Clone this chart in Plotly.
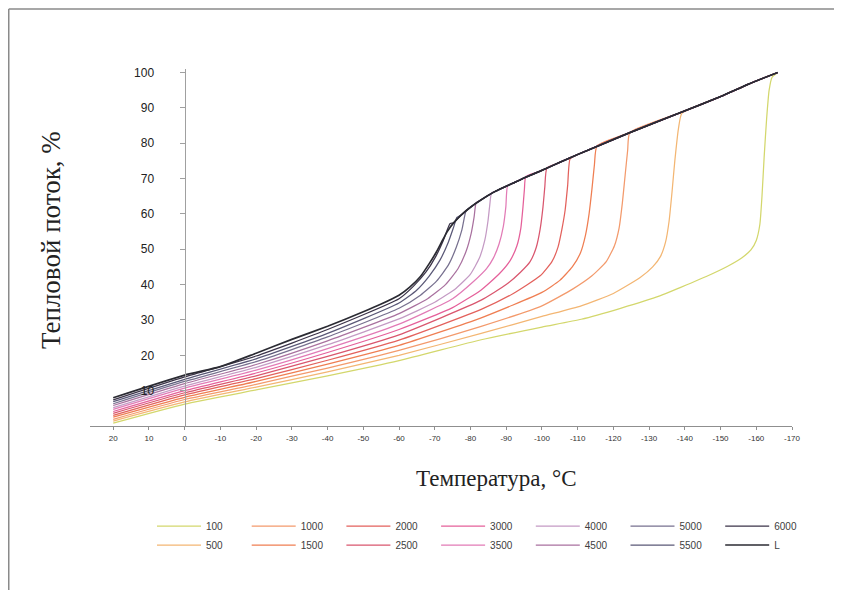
import plotly.graph_objects as go

# ---------------- data ----------------
X_TICKS = [20, 10, 0, -10, -20, -30, -40, -50, -60, -70, -80, -90, -100,
           -110, -120, -130, -140, -150, -160, -170]
X_TICK_LABELS = ["20", "10", "0", "-10", "-20", "-30", "-40", "-50", "-60", "-70",
                 "-80", "-90", "-100", "-110", "-120", "-130", "-140", "-150",
                 "-160", "-170"]
Y_TICKS = [10, 20, 30, 40, 50, 60, 70, 80, 90, 100]

SERIES_NAMES = ["100", "500", "1000", "1500", "2000", "2500", "3000",
                "3500", "4000", "4500", "5000", "5500", "6000", "L"]

T_100 = [20, 0, -20, -40, -60, -83, -100, -111, -122, -133, -139, -146, -152, -156,
         -158.5, -160, -161, -161.6, -162.2, -162.9, -163.6, -164.4]
V_100 = [0.8, 6.2, 10.2, 14.2, 18.5, 24.4, 28.0, 30.2, 33.3, 36.8, 39.3, 42.3, 45.2, 47.6,
         49.8, 52.5, 57.0, 65.0, 76.0, 87.0, 95.0, 98.6]

T_500 = [20, 0, -20, -40, -60, -83, -100, -111, -120, -127.5, -131, -133.2, -134.6,
         -135.6, -136.4, -137.2, -138.2, -139.2]
V_500 = [1.4, 6.8, 11.0, 15.3, 20.0, 26.2, 31.0, 34.0, 37.5, 42.0, 45.0, 48.0, 52.0,
         58.0, 66.0, 75.0, 84.0, 88.5]

T_1000 = [20, 0, -20, -40, -60, -83, -100, -108.7, -114, -118, -120.3, -121.6, -122.5,
          -123.3, -124, -124.6]
V_1000 = [1.9, 7.5, 11.8, 16.4, 21.4, 28.2, 34.0, 38.8, 42.5, 46.5, 51.0, 56.0, 63.0,
          71.0, 78.0, 83.0]

T_1500 = [20, 0, -20, -40, -60, -83, -100, -105, -108.5, -110.8, -112.2, -113.2, -114.0,
          -114.7, -115.4]
V_1500 = [2.5, 8.1, 12.6, 17.5, 22.8, 30.6, 37.8, 41.2, 45.0, 49.0, 54.0, 60.0, 67.0,
          74.0, 79.2]

T_2000 = [20, 0, -20, -40, -60, -83, -92, -99.5, -102.8, -104.5, -105.6, -106.5, -107.2,
          -107.9]
V_2000 = [3.0, 8.8, 13.4, 18.6, 24.3, 33.0, 37.5, 42.5, 46.5, 50.6, 55.7, 61.1, 68.0,
          75.6]

T_2500 = [20, 0, -20, -40, -60, -83, -90, -94, -96.7, -98.4, -99.5, -100.3, -100.8, -101.4]
V_2500 = [3.6, 9.4, 14.2, 19.7, 25.8, 35.6, 40.0, 43.5, 46.5, 50.5, 55.7, 62.0, 67.5, 73.0]

T_3000 = [20, 0, -20, -40, -60, -75, -83, -88, -91.1, -93, -94.1, -94.7, -95.1, -95.5]
V_3000 = [4.1, 10.0, 15.0, 20.8, 27.3, 33.5, 38.5, 43.0, 46.8, 51.0, 56.0, 62.0, 67.0, 70.6]

T_3500 = [20, 0, -20, -40, -60, -75, -81, -84.5, -86.4, -88, -89.2, -89.9, -90.4]
V_3500 = [4.7, 10.7, 15.8, 21.9, 28.8, 36.0, 41.0, 44.5, 47.5, 51.5, 56.5, 62.0, 68.0]

T_4000 = [20, 0, -20, -40, -60, -70, -76, -80, -82.5, -84, -84.9, -85.4, -85.9]
V_4000 = [5.2, 11.3, 16.6, 23.0, 30.3, 35.0, 39.0, 43.0, 47.5, 52.5, 58.0, 62.5, 66.0]

T_4500 = [20, 0, -20, -40, -60, -68, -73, -76.5, -78.8, -80.2, -81.0, -81.6]
V_4500 = [5.8, 12.0, 17.4, 24.1, 31.8, 36.0, 40.0, 44.5, 49.5, 54.5, 59.0, 63.2]

T_5000 = [20, 0, -20, -40, -60, -66, -70.5, -73.8, -76, -77.6, -78.8]
V_5000 = [6.3, 12.6, 18.2, 25.2, 33.3, 37.0, 41.0, 45.5, 50.5, 55.5, 61.0]

T_5500 = [20, 0, -20, -40, -60, -65, -68.5, -71.5, -73.8, -75.2, -76.2]
V_5500 = [6.9, 13.2, 19.0, 26.2, 34.8, 38.5, 42.5, 47.0, 52.0, 56.0, 59.0]

T_6000 = [20, 0, -20, -40, -60, -64, -67.5, -70.3, -72.4, -74.3]
V_6000 = [7.4, 13.9, 19.8, 27.3, 36.0, 39.5, 43.5, 48.0, 52.5, 57.3]

T_L = [20, 0, -10, -20, -30, -40, -50, -55, -60, -63, -66, -68.5, -70.5, -72, -73.5,
       -75.2, -77.3, -80, -82.7, -87, -91.9, -95.5, -99.5, -105, -110, -115.4, -124.6,
       -138.6, -150, -158, -166]
V_L = [8.0, 14.4, 16.8, 20.6, 24.5, 28.2, 32.3, 34.5, 37.0, 39.3, 42.3, 46.0, 49.3,
       52.2, 55.0, 57.4, 59.6, 61.9, 63.8, 66.4, 68.7, 70.4, 72.1, 74.6, 76.8, 79.1,
       83.0, 88.6, 93.2, 96.8, 100.0]

COLORS = ["#d3d76c", "#f3b673", "#f39a6c", "#ef7e52", "#e3615c", "#d9566e", "#e5609a",
          "#e27bb6", "#c49ac4", "#a9719f", "#77708f", "#5a5877", "#3b3349", "#2b2b33"]

T_ALL = [T_100, T_500, T_1000, T_1500, T_2000, T_2500, T_3000, T_3500, T_4000,
         T_4500, T_5000, T_5500, T_6000, T_L]
V_ALL = [V_100, V_500, V_1000, V_1500, V_2000, V_2500, V_3000, V_3500, V_4000,
         V_4500, V_5000, V_5500, V_6000, V_L]

# ---------------- layout helpers ----------------
W, H = 842, 590
OFF = 8  # page body margin of the browser
ML, MT = 90 - OFF, 69 - OFF
MR, MB = W - (792 - OFF), H - (426 - OFF)
PW, PH = W - ML - MR, H - MT - MB


def px_x(p):
    """screen pixel (as in the reference) -> paper x"""
    return (p - OFF - ML) / PW


def px_y(p):
    """screen pixel (as in the reference) -> paper y"""
    return 1 - (p - OFF - MT) / PH


fig = go.Figure()

for i, name in enumerate(SERIES_NAMES):
    t = list(T_ALL[i])
    v = list(V_ALL[i])
    if name != "L":
        # after joining, each curve follows the common upper (L) branch
        for tt, vv in zip(T_L, V_L):
            if tt < t[-1] - 0.3:
                t.append(tt)
                v.append(vv)
    col = i // 2
    fig.add_trace(go.Scatter(
        x=t, y=v, mode="lines", name=name,
        line=dict(color=COLORS[i], width=1.7 if name == "L" else 1.25,
                  shape="spline", smoothing=0.5),
        legend="legend" if col == 0 else f"legend{col + 1}",
        hoverinfo="skip",
    ))

legend_common = dict(orientation="v", xanchor="left", yanchor="top",
                     bgcolor="rgba(0,0,0,0)", borderwidth=0, tracegroupgap=0,
                     itemwidth=44,
                     font=dict(family="Liberation Sans, Arial", size=10, color="#404040"))
layout_legends = {}
for k in range(7):
    key = "legend" if k == 0 else f"legend{k + 1}"
    layout_legends[key] = dict(legend_common, x=px_x(152 + 94.7 * k), y=px_y(511.5))

fig.update_layout(
    width=W, height=H,
    margin=dict(l=ML, r=MR, t=MT, b=MB, autoexpand=False),
    paper_bgcolor="white", plot_bgcolor="white",
    showlegend=True,
    xaxis=dict(range=[26.5, -170], tickvals=X_TICKS, ticktext=X_TICK_LABELS,
               showgrid=False, zeroline=False, showline=True, linecolor="#8f8f8f",
               linewidth=1, ticks="outside", ticklen=3, tickcolor="#8f8f8f",
               tickfont=dict(family="Liberation Sans, Arial", size=8, color="#333333"),
               ticklabelstandoff=1),
    yaxis=dict(range=[0, 101], tickvals=Y_TICKS, showgrid=False, zeroline=False,
               showline=True, linecolor="#a0a0a0", linewidth=1, ticks="outside",
               ticklen=5, tickcolor="#a0a0a0", anchor="free",
               position=px_x(184.5),
               tickfont=dict(family="Liberation Sans, Arial", size=12, color="#222222"),
               ticklabelstandoff=23),
    annotations=[
        dict(text="Температура, °С", xref="paper", yref="paper", x=px_x(496), y=px_y(479),
             showarrow=False, xanchor="center", yanchor="middle",
             font=dict(family="Liberation Serif, Times New Roman", size=23, color="#222222")),
        dict(text="Тепловой поток, %", xref="paper", yref="paper", x=px_x(51), y=px_y(240),
             showarrow=False, xanchor="center", yanchor="middle", textangle=-90,
             font=dict(family="Liberation Serif, Times New Roman", size=27, color="#222222")),
    ],
    shapes=[
        dict(type="line", xref="paper", yref="paper", x0=px_x(8.75), x1=px_x(850),
             y0=px_y(9), y1=px_y(9), line=dict(color="#8a8a8a", width=1.5)),
        dict(type="line", xref="paper", yref="paper", x0=px_x(8.75), x1=px_x(8.75),
             y0=px_y(9), y1=px_y(600), line=dict(color="#8a8a8a", width=1.5)),
    ],
    **layout_legends,
)

fig.write_html("out.html")
